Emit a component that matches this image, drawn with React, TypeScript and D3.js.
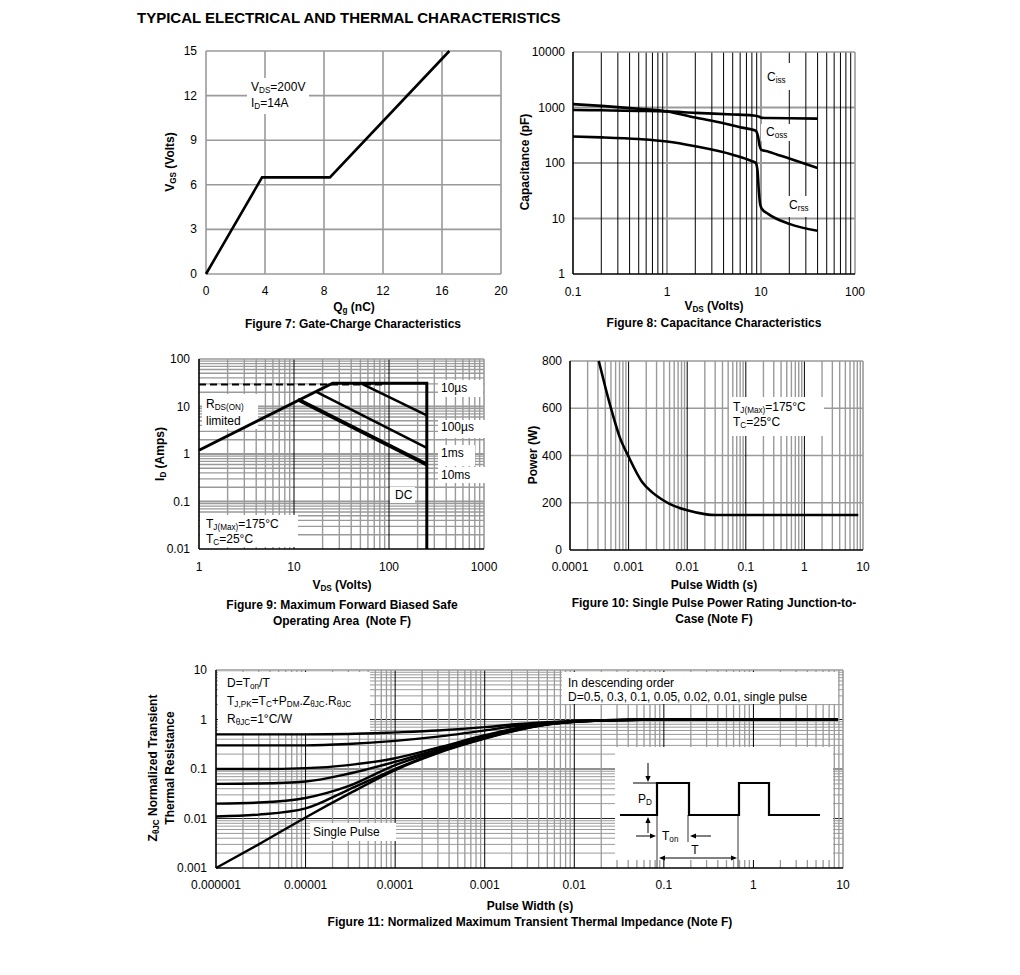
import React from 'react';
import * as d3 from 'd3';

const FONT = '"Liberation Sans", Arial, Helvetica, sans-serif';
const GRID = '#9a9a9a';
const INK = '#000';
const TICK = 12;
const ANN = 12;

// ---------------- Figure 7: gate charge
const qgNC = [0, 3.8, 8.4, 16.5];
const vgsVolts = [0, 6.5, 6.5, 15];
const fig7XTicks = [0, 4, 8, 12, 16, 20];
const fig7YTicks = [0, 3, 6, 9, 12, 15];

// ---------------- Figure 8: capacitance
const cissVds = [0.1, 0.2, 0.5, 1, 2, 5, 8, 9, 9.6, 10, 12, 20, 40];
const cissPf = [900, 890, 870, 850, 800, 750, 720, 705, 680, 655, 645, 640, 630];
const cossVds = [0.1, 0.2, 0.5, 1, 2, 4, 6, 8, 8.8, 9.3, 9.7, 10, 12, 20, 40];
const cossPf = [1150, 1070, 950, 850, 660, 520, 440, 400, 380, 300, 200, 175, 160, 120, 81];
const crssVds = [0.1, 0.2, 0.5, 1, 2, 5, 8, 8.8, 9.2, 9.5, 9.8, 10.2, 12, 20, 40];
const crssPf = [300, 290, 270, 244, 200, 141, 108, 100, 70, 30, 18, 15, 12, 8, 6];
const fig8XTicks = [0.1, 1, 10, 100];
const fig8XLabels = ['0.1', '1', '10', '100'];
const fig8YTicks = [1, 10, 100, 1000, 10000];
const fig8YLabels = ['1', '10', '100', '1000', '10000'];

// ---------------- Figure 9: SOA
const rdsLimitVds = [1, 90];
const rdsLimitId = [29, 29];
const envelopeVds = [1, 25.5, 250, 250];
const envelopeId = [1.2, 31, 31, 0.01];
const soa10usVds = [50, 250];
const soa10usId = [31, 6.5];
const soa100usVds = [17, 250];
const soa100usId = [20.5, 1.35];
const soaDcVds = [11, 250];
const soaDcId = [14, 0.6];
const fig9XTicks = [1, 10, 100, 1000];
const fig9XLabels = ['1', '10', '100', '1000'];
const fig9YTicks = [0.01, 0.1, 1, 10, 100];
const fig9YLabels = ['0.01', '0.1', '1', '10', '100'];

// ---------------- Figure 10: single pulse power
const pulseWidthS = [0.00031, 0.0004, 0.0005, 0.0007, 0.001, 0.0017, 0.0025, 0.0035, 0.005, 0.01, 0.02, 0.03, 0.1, 1, 8.3];
const pulsePowerW = [800, 690, 600, 480, 395, 288, 245, 218, 195, 168, 152, 148, 148, 148, 148];
const fig10XTicks = [0.0001, 0.001, 0.01, 0.1, 1, 10];
const fig10XLabels = ['0.0001', '0.001', '0.01', '0.1', '1', '10'];
const fig10YTicks = [0, 200, 400, 600, 800];

// ---------------- Figure 11: transient thermal impedance
const zthTime = [1e-6, 3e-6, 1e-5, 3e-5, 1e-4, 3e-4, 1e-3, 2e-3, 5e-3, 1e-2, 3e-2, 0.1, 1, 8.8];
const zthD05 = [0.5, 0.5, 0.5, 0.51, 0.55, 0.6, 0.7, 0.79, 0.88, 0.93, 0.98, 1.0, 1.0, 1.0];
const zthD03 = [0.3, 0.3, 0.3, 0.32, 0.37, 0.45, 0.6, 0.72, 0.85, 0.92, 0.98, 1.0, 1.0, 1.0];
const zthD01 = [0.1, 0.1, 0.104, 0.12, 0.165, 0.27, 0.48, 0.64, 0.82, 0.91, 0.97, 1.0, 1.0, 1.0];
const zthD005 = [0.05, 0.051, 0.056, 0.08, 0.14, 0.25, 0.45, 0.62, 0.81, 0.9, 0.97, 1.0, 1.0, 1.0];
const zthD002 = [0.02, 0.021, 0.026, 0.045, 0.12, 0.23, 0.43, 0.6, 0.8, 0.9, 0.97, 1.0, 1.0, 1.0];
const zthD001 = [0.011, 0.012, 0.016, 0.038, 0.1, 0.22, 0.42, 0.58, 0.8, 0.9, 0.97, 1.0, 1.0, 1.0];
const zthSingle = [0.001, 0.003, 0.0105, 0.031, 0.095, 0.21, 0.41, 0.57, 0.79, 0.9, 0.97, 1.0, 1.0, 1.0];
const zthSeries = [zthD05, zthD03, zthD01, zthD005, zthD002, zthD001, zthSingle];
const fig11XTicks = [1e-6, 1e-5, 1e-4, 1e-3, 1e-2, 0.1, 1, 10];
const fig11XLabels = ['0.000001', '0.00001', '0.0001', '0.001', '0.01', '0.1', '1', '10'];
const fig11YTicks = [0.001, 0.01, 0.1, 1, 10];
const fig11YLabels = ['0.001', '0.01', '0.1', '1', '10'];

function logGrid(min: number, max: number) {
  const res: { v: number; major: boolean }[] = [];
  const a = Math.round(Math.log10(min));
  const b = Math.round(Math.log10(max));
  for (let e = a; e < b; e++) {
    for (let k = 1; k < 10; k++) res.push({ v: k * Math.pow(10, e), major: k === 1 });
  }
  res.push({ v: Math.pow(10, b), major: true });
  return res;
}

function Rich(props: {
  x: number; y: number; parts: string[]; size?: number; anchor?: string; weight?: string; transform?: string;
}) {
  const size = props.size || ANN;
  const out: any[] = [];
  let sub = false;
  props.parts.forEach((p, i) => {
    const isSub = p.startsWith('_');
    const txt = isSub ? p.slice(1) : p;
    let dy = 0;
    if (isSub && !sub) dy = size * 0.2;
    if (!isSub && sub) dy = -size * 0.2;
    sub = isSub;
    out.push(
      <tspan key={i} dy={dy} fontSize={isSub ? size * 0.68 : size}>{txt}</tspan>
    );
  });
  return (
    <text x={props.x} y={props.y} fontSize={size} fontFamily={FONT} textAnchor={props.anchor || 'start'}
      fontWeight={props.weight || 'normal'} transform={props.transform} fill={INK} style={{ whiteSpace: 'pre' }}>
      {out}
    </text>
  );
}

function T(props: { x: number; y: number; text: string; size?: number; anchor?: string; weight?: string }) {
  return (
    <text x={props.x} y={props.y} fontSize={props.size || ANN} fontFamily={FONT} textAnchor={props.anchor || 'middle'}
      fontWeight={props.weight || 'normal'} fill={INK} style={{ whiteSpace: 'pre' }}>
      {props.text}
    </text>
  );
}

function Box(p: { x0: number; y0: number; x1: number; y1: number }) {
  return <rect x={p.x0} y={p.y0} width={p.x1 - p.x0} height={p.y1 - p.y0} fill="#fff" />;
}

function Frame(p: { x0: number; x1: number; y0: number; y1: number; left: string; bottom: string; top: string; right: string; w?: number }) {
  const w = p.w || 1.5;
  return (
    <g>
      <line x1={p.x0} x2={p.x1} y1={p.y0} y2={p.y0} stroke={p.top} strokeWidth={w} />
      <line x1={p.x1} x2={p.x1} y1={p.y0} y2={p.y1} stroke={p.right} strokeWidth={w} />
      <line x1={p.x0} x2={p.x1} y1={p.y1} y2={p.y1} stroke={p.bottom} strokeWidth={w} />
      <line x1={p.x0} x2={p.x0} y1={p.y0} y2={p.y1} stroke={p.left} strokeWidth={w} />
    </g>
  );
}

function pathOf(xs: number[], ys: number[], x: (v: number) => number, y: (v: number) => number, curve?: any) {
  const gen = d3.line<number>().x((d, i) => x(xs[i])).y((d) => y(d));
  if (curve) gen.curve(curve);
  return gen(ys) || '';
}

function Fig7() {
  const x = d3.scaleLinear().domain([0, 20]).range([206, 501]);
  const y = d3.scaleLinear().domain([0, 15]).range([274, 51]);
  return (
    <g>
      {fig7XTicks.slice(1, -1).map((t) => (
        <line key={'gx' + t} x1={x(t)} x2={x(t)} y1={y(15)} y2={y(0)} stroke={GRID} strokeWidth={1.6} />
      ))}
      {fig7YTicks.slice(1, -1).map((t) => (
        <line key={'gy' + t} x1={x(0)} x2={x(20)} y1={y(t)} y2={y(t)} stroke={GRID} strokeWidth={1.6} />
      ))}
      <Frame x0={x(0)} x1={x(20)} y0={y(15)} y1={y(0)} left={GRID} bottom={GRID} top={GRID} right={GRID} w={1.6} />
      <Box x0={247} y0={78} x1={309} y1={114} />
      <Rich x={251} y={91} parts={['V', '_DS', '=200V']} />
      <Rich x={251} y={107} parts={['I', '_D', '=14A']} />
      <path d={pathOf(qgNC, vgsVolts, x, y)} fill="none" stroke={INK} strokeWidth={2.6} strokeLinejoin="miter" />
      {fig7XTicks.map((t) => <T key={'lx' + t} x={x(t)} y={295} text={String(t)} size={TICK} />)}
      {fig7YTicks.map((t) => <T key={'ly' + t} x={197} y={y(t) + 4} text={String(t)} anchor="end" size={TICK} />)}
      <Rich x={354} y={311} parts={['Q', '_g', ' (nC)']} weight="bold" anchor="middle" />
      <Rich x={0} y={0} parts={['V', '_GS', ' (Volts)']} weight="bold" anchor="middle" transform="translate(174,162) rotate(-90)" />
      <T x={353} y={328} text="Figure 7: Gate-Charge Characteristics" weight="bold" />
    </g>
  );
}

function Fig8() {
  const x = d3.scaleLog().domain([0.1, 100]).range([573, 855]);
  const y = d3.scaleLog().domain([1, 10000]).range([274, 52]);
  const gx = logGrid(0.1, 100);
  return (
    <g>
      {fig8YTicks.slice(1, -1).map((t) => (
        <line key={'gy' + t} x1={x(0.1)} x2={x(100)} y1={y(t)} y2={y(t)} stroke={GRID} strokeWidth={1.8} />
      ))}
      {gx.slice(1, -1).map((g) => (
        <line key={'gx' + g.v} x1={x(g.v)} x2={x(g.v)} y1={y(10000)} y2={y(1)}
          stroke={g.major ? GRID : INK} strokeWidth={g.major ? 2 : 1} />
      ))}
      <Frame x0={x(0.1)} x1={x(100)} y0={y(10000)} y1={y(1)} left={INK} bottom={INK} top={GRID} right={GRID} w={1.6} />
      <Box x0={762} y0={63} x1={794} y1={90} />
      <Box x0={761} y0={124} x1={794} y1={141} />
      <Box x0={784} y0={196} x1={814} y1={217} />
      <Rich x={767} y={81} parts={['C', '_iss']} />
      <Rich x={766} y={136} parts={['C', '_oss']} />
      <Rich x={789} y={209} parts={['C', '_rss']} />
      <path d={pathOf(cissVds, cissPf, x, y, d3.curveMonotoneX)} fill="none" stroke={INK} strokeWidth={2.6} />
      <path d={pathOf(cossVds, cossPf, x, y, d3.curveMonotoneX)} fill="none" stroke={INK} strokeWidth={2.6} />
      <path d={pathOf(crssVds, crssPf, x, y, d3.curveMonotoneX)} fill="none" stroke={INK} strokeWidth={2.6} />
      {fig8XTicks.map((t, i) => <T key={'lx' + t} x={x(t)} y={296} text={fig8XLabels[i]} size={TICK} />)}
      {fig8YTicks.map((t, i) => <T key={'ly' + t} x={565} y={y(t) + 4} text={fig8YLabels[i]} anchor="end" size={TICK} />)}
      <Rich x={714} y={310} parts={['V', '_DS', ' (Volts)']} weight="bold" anchor="middle" />
      <text transform="translate(529,162) rotate(-90)" fontSize={ANN} fontFamily={FONT} fontWeight="bold" textAnchor="middle">Capacitance (pF)</text>
      <T x={714} y={327} text="Figure 8: Capacitance Characteristics" weight="bold" />
    </g>
  );
}

function Fig9() {
  const x = d3.scaleLog().domain([1, 1000]).range([199, 484]);
  const y = d3.scaleLog().domain([0.01, 100]).range([549, 359]);
  const gx = logGrid(1, 1000);
  const gy = logGrid(0.01, 100);
  return (
    <g>
      {gy.slice(1, -1).map((g) => (
        <line key={'gy' + g.v} x1={x(1)} x2={x(1000)} y1={y(g.v)} y2={y(g.v)} stroke={GRID} strokeWidth={g.major ? 2 : 1.4} />
      ))}
      {gx.slice(1, -1).map((g) => (
        <line key={'gx' + g.v} x1={x(g.v)} x2={x(g.v)} y1={y(100)} y2={y(0.01)}
          stroke={g.major ? INK : GRID} strokeWidth={g.major ? 1 : 1.4} />
      ))}
      <Frame x0={x(1)} x1={x(1000)} y0={y(100)} y1={y(0.01)} left={INK} bottom={INK} top={GRID} right={GRID} w={1.6} />
      <Box x0={202} y0={394} x1={258} y1={429} />
      <Box x0={200} y0={515} x1={298} y1={547} />
      <Box x0={438} y0={380} x1={483} y1={397} />
      <Box x0={438} y0={420} x1={485} y1={438} />
      <Box x0={438} y0={445} x1={475} y1={466} />
      <Box x0={438} y0={467} x1={485} y1={483} />
      <Box x0={390} y0={487} x1={415} y1={503} />
      <Rich x={206} y={408} parts={['R', '_DS(ON)']} />
      <T x={206} y={425} text="limited" anchor="start" />
      <Rich x={206} y={528} parts={['T', '_J(Max)', '=175°C']} />
      <Rich x={206} y={543} parts={['T', '_C', '=25°C']} />
      <T x={441} y={392} text="10µs" anchor="start" />
      <T x={441} y={431} text="100µs" anchor="start" />
      <T x={441} y={457} text="1ms" anchor="start" />
      <T x={441} y={479} text="10ms" anchor="start" />
      <T x={395} y={499} text="DC" anchor="start" />
      <path d={pathOf(rdsLimitVds, rdsLimitId, x, y)} fill="none" stroke={INK} strokeWidth={2} strokeDasharray="7,4" />
      <path d={pathOf(soa10usVds, soa10usId, x, y)} fill="none" stroke={INK} strokeWidth={2.4} />
      <path d={pathOf(soa100usVds, soa100usId, x, y)} fill="none" stroke={INK} strokeWidth={2.4} />
      <path d={pathOf(soaDcVds, soaDcId, x, y)} fill="none" stroke={INK} strokeWidth={3.8} />
      <path d={pathOf(envelopeVds, envelopeId, x, y)} fill="none" stroke={INK} strokeWidth={3} strokeLinejoin="miter" />
      {fig9XTicks.map((t, i) => <T key={'lx' + t} x={x(t)} y={571} text={fig9XLabels[i]} size={TICK} />)}
      {fig9YTicks.map((t, i) => <T key={'ly' + t} x={190} y={y(t) + 4} text={fig9YLabels[i]} anchor="end" size={TICK} />)}
      <Rich x={342} y={589} parts={['V', '_DS', ' (Volts)']} weight="bold" anchor="middle" />
      <Rich x={0} y={0} parts={['I', '_D', ' (Amps)']} weight="bold" anchor="middle" transform="translate(164,454) rotate(-90)" />
      <T x={342} y={609} text="Figure 9: Maximum Forward Biased Safe" weight="bold" />
      <T x={342} y={625} text="Operating Area  (Note F)" weight="bold" />
    </g>
  );
}

function Fig10() {
  const x = d3.scaleLog().domain([0.0001, 10]).range([570, 863]);
  const y = d3.scaleLinear().domain([0, 800]).range([550, 361]);
  const gx = logGrid(0.0001, 10);
  return (
    <g>
      {fig10YTicks.slice(1, -1).map((t) => (
        <line key={'gy' + t} x1={x(0.0001)} x2={x(10)} y1={y(t)} y2={y(t)} stroke={GRID} strokeWidth={1.6} />
      ))}
      {gx.slice(1, -1).map((g) => (
        <line key={'gx' + g.v} x1={x(g.v)} x2={x(g.v)} y1={y(800)} y2={y(0)}
          stroke={g.major ? INK : GRID} strokeWidth={g.major ? 1 : 1.4} />
      ))}
      <Frame x0={x(0.0001)} x1={x(10)} y0={y(800)} y1={y(0)} left={INK} bottom={INK} top={GRID} right={GRID} w={1.6} />
      <Box x0={729} y0={397} x1={824} y1={436} />
      <Rich x={733} y={411} parts={['T', '_J(Max)', '=175°C']} />
      <Rich x={733} y={426} parts={['T', '_C', '=25°C']} />
      <path d={pathOf(pulseWidthS, pulsePowerW, x, y, d3.curveMonotoneX)} fill="none" stroke={INK} strokeWidth={2.6} />
      {fig10XTicks.map((t, i) => <T key={'lx' + t} x={x(t)} y={571} text={fig10XLabels[i]} size={TICK} />)}
      {fig10YTicks.map((t) => <T key={'ly' + t} x={562} y={y(t) + 4} text={String(t)} anchor="end" size={TICK} />)}
      <T x={714} y={589} text="Pulse Width (s)" weight="bold" />
      <text transform="translate(537,455) rotate(-90)" fontSize={ANN} fontFamily={FONT} fontWeight="bold" textAnchor="middle">Power (W)</text>
      <T x={714} y={607} text="Figure 10: Single Pulse Power Rating Junction-to-" weight="bold" />
      <T x={714} y={623} text="Case (Note F)" weight="bold" />
    </g>
  );
}

function Arrow(p: { x1: number; y1: number; x2: number; y2: number }) {
  const ang = Math.atan2(p.y2 - p.y1, p.x2 - p.x1);
  const L = 6, Wd = 2.6;
  const bx = p.x2 - L * Math.cos(ang), by = p.y2 - L * Math.sin(ang);
  const nx = -Math.sin(ang) * Wd, ny = Math.cos(ang) * Wd;
  return (
    <g>
      <line x1={p.x1} y1={p.y1} x2={bx} y2={by} stroke={INK} strokeWidth={1} />
      <path d={`M${p.x2},${p.y2}L${bx + nx},${by + ny}L${bx - nx},${by - ny}Z`} fill={INK} />
    </g>
  );
}

function PulseInset(p: { ox: number; oy: number }) {
  const ox = p.ox, oy = p.oy;
  const lo = oy + 68, hi = oy + 36;
  const wave = `M${ox + 5},${lo}H${ox + 42}V${hi}H${ox + 74}V${lo}H${ox + 124}V${hi}H${ox + 154}V${lo}H${ox + 205}`;
  return (
    <g>
      <rect x={ox} y={oy} width={218} height={113} fill="#fff" />
      <line x1={ox + 18} x2={ox + 42} y1={hi} y2={hi} stroke={INK} strokeWidth={1} />
      <line x1={ox + 42} x2={ox + 42} y1={lo} y2={oy + 121} stroke={INK} strokeWidth={0.8} />
      <line x1={ox + 73} x2={ox + 73} y1={lo} y2={oy + 95} stroke={INK} strokeWidth={0.8} />
      <line x1={ox + 123} x2={ox + 123} y1={lo} y2={oy + 121} stroke={INK} strokeWidth={0.8} />
      <path d={wave} fill="none" stroke={INK} strokeWidth={2.2} />
      <Arrow x1={ox + 33} y1={oy + 16} x2={ox + 33} y2={hi - 1} />
      <Arrow x1={ox + 33} y1={oy + 86} x2={ox + 33} y2={lo + 2} />
      <Rich x={ox + 23} y={oy + 56} parts={['P', '_D']} />
      <Arrow x1={ox + 21} y1={oy + 89} x2={ox + 41} y2={oy + 89} />
      <Arrow x1={ox + 96} y1={oy + 89} x2={ox + 75} y2={oy + 89} />
      <Rich x={ox + 47} y={oy + 93} parts={['T', '_on']} />
      <T x={ox + 80} y={oy + 107} text="T" />
      <Arrow x1={ox + 83} y1={oy + 111} x2={ox + 44} y2={oy + 111} />
      <Arrow x1={ox + 83} y1={oy + 111} x2={ox + 122} y2={oy + 111} />
    </g>
  );
}

function Fig11() {
  const x = d3.scaleLog().domain([1e-6, 10]).range([216, 843]);
  const y = d3.scaleLog().domain([0.001, 10]).range([868, 670]);
  const gx = logGrid(1e-6, 10);
  const gy = logGrid(0.001, 10);
  return (
    <g>
      {gy.slice(1, -1).map((g) => (
        <line key={'gy' + g.v} x1={x(1e-6)} x2={x(10)} y1={y(g.v)} y2={y(g.v)}
          stroke={g.major ? '#222' : GRID} strokeWidth={1} />
      ))}
      {gx.slice(1, -1).map((g) => (
        <line key={'gx' + g.v} x1={x(g.v)} x2={x(g.v)} y1={y(10)} y2={y(0.001)}
          stroke={g.major ? INK : GRID} strokeWidth={g.major ? 1 : 1.3} />
      ))}
      <Frame x0={x(1e-6)} x1={x(10)} y0={y(10)} y1={y(0.001)} left={INK} bottom={INK} top={GRID} right={GRID} w={1.6} />
      <Box x0={218} y0={672} x1={370} y1={733} />
      <Box x0={562} y0={672} x1={838} y1={704} />
      <Box x0={310} y0={823} x1={396} y1={841} />
      <Rich x={227} y={687} parts={['D=T', '_on', '/T']} />
      <Rich x={227} y={705} parts={['T', '_J,PK', '=T', '_C', '+P', '_DM', '.Z', '_θJC', '.R', '_θJC']} />
      <Rich x={227} y={723} parts={['R', '_θJC', '=1°C/W']} />
      <T x={568} y={687} text="In descending order" anchor="start" />
      <T x={568} y={701} text="D=0.5, 0.3, 0.1, 0.05, 0.02, 0.01, single pulse" anchor="start" />
      <T x={313} y={836} text="Single Pulse" anchor="start" />
      <PulseInset ox={615} oy={747} />
      {zthSeries.map((s, i) => (
        <path key={'z' + i} d={pathOf(zthTime, s, x, y, d3.curveMonotoneX)} fill="none" stroke={INK} strokeWidth={2.4} />
      ))}
      {fig11XTicks.map((t, i) => <T key={'lx' + t} x={x(t)} y={889} text={fig11XLabels[i]} size={TICK} />)}
      {fig11YTicks.map((t, i) => <T key={'ly' + t} x={207} y={y(t) + 4} text={fig11YLabels[i]} anchor="end" size={TICK} />)}
      <T x={530} y={910} text="Pulse Width (s)" weight="bold" />
      <Rich x={0} y={0} parts={['Z', '_θJC', ' Normalized Transient']} weight="bold" anchor="middle" transform="translate(157,768) rotate(-90)" />
      <text transform="translate(174,768) rotate(-90)" fontSize={ANN} fontFamily={FONT} fontWeight="bold" textAnchor="middle">Thermal Resistance</text>
      <T x={530} y={926} text="Figure 11: Normalized Maximum Transient Thermal Impedance (Note F)" weight="bold" />
    </g>
  );
}

export default function App() {
  return (
    <svg width={1020} height={975} style={{ position: 'absolute', left: 0, top: 0, background: '#fff' }}
      xmlns="http://www.w3.org/2000/svg">
      <rect x={0} y={0} width={1020} height={975} fill="#fff" />
      <text x={137} y={23} fontSize={15} fontWeight="bold" fontFamily={FONT} fill={INK}>
        TYPICAL ELECTRICAL AND THERMAL CHARACTERISTICS
      </text>
      <Fig7 />
      <Fig8 />
      <Fig9 />
      <Fig10 />
      <Fig11 />
    </svg>
  );
}
